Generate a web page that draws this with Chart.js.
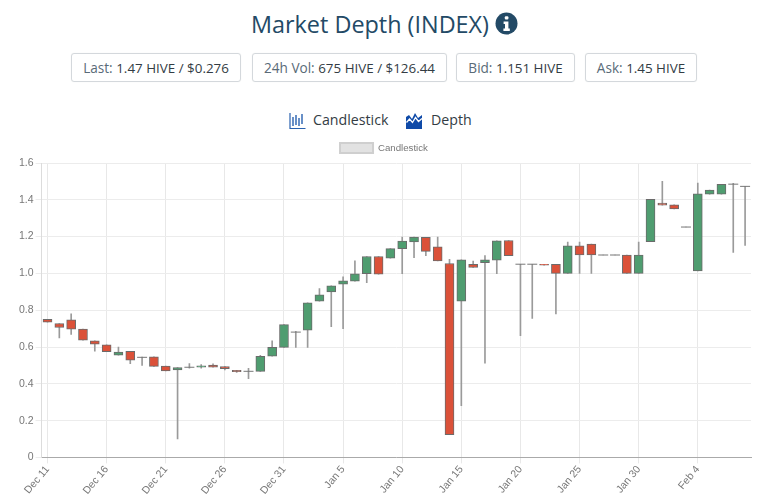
<!DOCTYPE html>
<html><head><meta charset="utf-8">
<script src="https://cdn.jsdelivr.net/npm/chart.js@4"></script>
<style>
html,body{margin:0;padding:0;background:#fff;width:768px;height:503px;overflow:hidden;font-family:"Open Sans",sans-serif}
.abs{position:absolute}
#title{left:0;width:740px;top:6px;text-align:center;font-size:23.4px;line-height:36px;color:#234a66;white-space:nowrap}
.stat{top:53px;height:27px;border:1px solid #d4d8dc;border-radius:3px;box-sizing:content-box;text-align:center;font-size:13.6px;line-height:27px;color:#5a6b78;white-space:nowrap;box-shadow:0 0 1px #e6e6e6}
.stat b{font-weight:500;font-size:13.4px;color:#333c44}
.tab{top:109px;font-size:14.2px;line-height:22px;color:#333c44;white-space:nowrap}
#wrap{left:0;top:140px;width:768px;height:363px}
</style></head><body>
<div class="abs" id="title">Market Depth (INDEX)</div>
<svg class="abs" style="left:495px;top:12px" width="23" height="23" viewBox="0 0 23 23"><circle cx="11.5" cy="11.5" r="11" fill="#234a66"/><rect x="9.8" y="4.2" width="3.6" height="3.4" rx="1" fill="#fff"/><path d="M8.6 9.5h4.8v7h1.4v2.4H8.4v-2.4h1.6v-4.6H8.6z" fill="#fff"/></svg>
<div class="abs stat" style="left:71px;width:168px"><span>Last:</span> <b>1.47 HIVE / $0.276</b></div>
<div class="abs stat" style="left:252px;width:193px"><span>24h Vol:</span> <b>675 HIVE / $126.44</b></div>
<div class="abs stat" style="left:456px;width:117px"><span>Bid:</span> <b>1.151 HIVE</b></div>
<div class="abs stat" style="left:585px;width:110px"><span>Ask:</span> <b>1.45 HIVE</b></div>
<svg class="abs" style="left:289px;top:112px" width="17" height="18" viewBox="0 0 17 18"><path d="M1 1v15.5h15.5" fill="none" stroke="#2a62b0" stroke-width="1.2"/><path d="M4 5v9M7 3v10M10 6v8M13 2v10" stroke="#2a62b0" stroke-width="1.4"/></svg>
<div class="abs tab" style="left:313px">Candlestick</div>
<svg class="abs" style="left:406px;top:112px" width="17" height="18" viewBox="0 0 17 18"><path d="M0 17V5l3-2 3 4 3-6 3 5 4-3v14z" fill="#0f4aa8"/><path d="M0.5 10.5l3-3.5 3 3.5 3-5 3 4 3.5-3" fill="none" stroke="#fff" stroke-width="1.3"/></svg>
<div class="abs tab" style="left:431px">Depth</div>
<div class="abs" id="wrap"><canvas id="c" width="768" height="363"></canvas></div>
<script>
const categories=["Dec 11","Dec 12","Dec 13","Dec 14","Dec 15","Dec 16","Dec 17","Dec 18","Dec 19","Dec 20","Dec 21","Dec 22","Dec 23","Dec 24","Dec 25","Dec 26","Dec 27","Dec 28","Dec 29","Dec 30","Dec 31","Jan 1","Jan 2","Jan 3","Jan 4","Jan 5","Jan 6","Jan 7","Jan 8","Jan 9","Jan 10","Jan 11","Jan 12","Jan 13","Jan 14","Jan 15","Jan 16","Jan 17","Jan 18","Jan 19","Jan 20","Jan 21","Jan 22","Jan 23","Jan 24","Jan 25","Jan 26","Jan 27","Jan 28","Jan 29","Jan 30","Jan 31","Feb 1","Feb 2","Feb 3","Feb 4","Feb 5","Feb 6","Feb 7","Feb 8"];
const opens=[0.75,0.728,0.748,0.697,0.634,0.612,0.556,0.576,0.544,0.547,0.497,0.475,0.49,0.491,0.502,0.493,0.473,0.468,0.468,0.55,0.598,0.681,0.692,0.849,0.899,0.942,0.958,0.998,1.092,1.083,1.135,1.171,1.196,1.144,1.054,0.849,1.049,1.058,1.072,1.179,1.05,1.05,1.05,1.05,1.0,1.15,1.16,1.1,1.1,1.1,1.0,1.172,1.382,1.373,1.252,1.013,1.431,1.431,1.485,1.473];
const closes=[0.735,0.706,0.697,0.637,0.616,0.574,0.572,0.529,0.544,0.495,0.47,0.488,0.49,0.498,0.49,0.482,0.466,0.468,0.55,0.598,0.722,0.681,0.84,0.883,0.932,0.96,0.998,1.092,0.996,1.135,1.175,1.198,1.12,1.068,0.124,1.074,1.032,1.074,1.177,1.096,1.05,1.05,1.045,1.0,1.15,1.1,1.1,1.1,1.1,1.0,1.1,1.402,1.371,1.351,1.252,1.433,1.453,1.484,1.485,1.473];
const highs=[0.75,0.728,0.78,0.697,0.634,0.612,0.6,0.576,0.545,0.547,0.497,0.488,0.51,0.505,0.508,0.493,0.473,0.484,0.555,0.634,0.722,0.685,0.84,0.917,0.932,0.982,1.068,1.092,1.092,1.135,1.198,1.198,1.196,1.198,1.077,1.074,1.067,1.097,1.177,1.179,1.05,1.05,1.05,1.05,1.17,1.17,1.16,1.1,1.1,1.1,1.17,1.402,1.5,1.373,1.252,1.491,1.453,1.484,1.49,1.473];
const lows=[0.735,0.65,0.668,0.637,0.578,0.574,0.556,0.51,0.5,0.495,0.47,0.1,0.485,0.485,0.49,0.475,0.462,0.428,0.468,0.55,0.598,0.598,0.598,0.849,0.71,0.7,0.958,0.95,0.996,1.083,0.998,1.085,1.097,1.068,0.124,0.281,1.032,0.512,0.998,1.096,0.661,0.755,1.045,0.78,1.0,1.0,1.0,1.1,1.1,1.0,1.0,1.172,1.371,1.351,1.252,1.013,1.431,1.431,1.114,1.152];
const seriesName="Candlestick";
const upColor="#4f9d70",downColor="#db5139",edge="#6b6b6b",wickColor="#9a9a9a";
const tickFont={size:10.5,family:'"Liberation Sans",Arial,sans-serif'};

const isFlat=i=>opens[i]===closes[i];
new Chart(document.getElementById('c'),{
  type:'bar',
  data:{labels:categories,datasets:[
    {label:seriesName,order:1,grouped:false,barThickness:9,borderWidth:1,borderSkipped:false,
     data:categories.map((_,i)=>isFlat(i)?null:[opens[i],closes[i]]),
     backgroundColor:categories.map((_,i)=>closes[i]>opens[i]?upColor:downColor),borderColor:edge},
    {label:'flat',type:'line',order:0,showLine:false,pointStyle:'line',pointRadius:5,pointBorderWidth:1,pointBorderColor:'#777',
     data:categories.map((_,i)=>isFlat(i)?opens[i]:null)},
    {label:'wick',order:2,grouped:false,barThickness:1,borderWidth:0,backgroundColor:wickColor,
     data:categories.map((_,i)=>[lows[i],highs[i]])}
  ]},
  options:{
    responsive:false,animation:false,
    layout:{padding:{left:17,right:17,top:0,bottom:6}},
    plugins:{tooltip:{enabled:false},
      legend:{display:true,position:'top',labels:{boxWidth:33,boxHeight:10,font:{size:9.7,family:'"Liberation Sans",Arial,sans-serif'},color:'#777',padding:3,
        generateLabels:()=>[{text:seriesName,fillStyle:'#e2e2e2',strokeStyle:'#cfcfcf',lineWidth:2,fontColor:'#777',datasetIndex:0}]}}},
    scales:{
      x:{offset:true,border:{color:'#aaa'},
        grid:{offset:false,drawTicks:true,tickLength:6,color:c=>c.index%5===0?'#e8e8e8':'rgba(0,0,0,0)'},
        ticks:{autoSkip:false,maxRotation:50,minRotation:50,padding:0,color:'#777',font:tickFont,
          callback(v,i){return i%5===0?categories[i]:'';}}},
      y:{min:0,max:1.6,border:{color:'#dcdcdc'},
        grid:{color:'#ececec',tickLength:6},
        ticks:{stepSize:0.2,padding:2,color:'#777',font:tickFont}}
    }
  }
});
</script>
</body></html>
